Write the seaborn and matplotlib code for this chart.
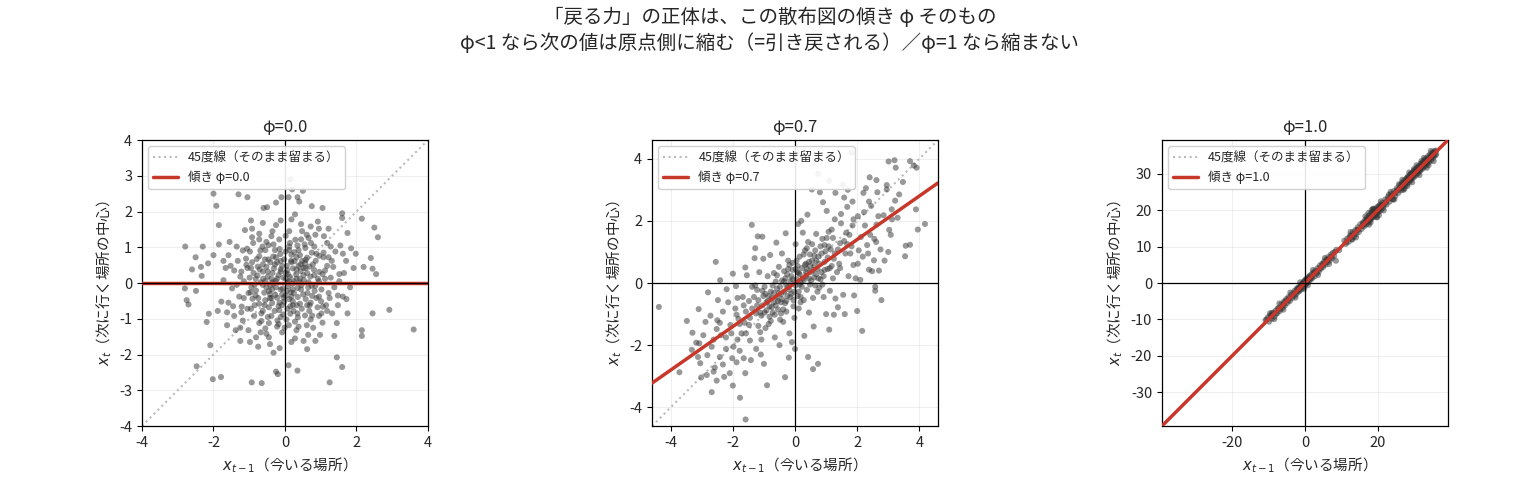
import pandas as pd
import matplotlib.pyplot as plt
import seaborn as sns

# 各パネルの φ とタイトル
phis = [0.0, 0.7, 1.0]
panel_titles = ["φ=0.0", "φ=0.7", "φ=1.0"]
axis_lims = [4.0, 4.6, 39.2]

suptitle_text = ("「戻る力」の正体は、この散布図の傾き φ そのもの\n"
                 "φ<1 なら次の値は原点側に縮む（=引き戻される）／φ=1 なら縮まない")
xlabel_text = "$x_{t-1}$（今いる場所）"
ylabel_text = "$x_t$（次に行く場所の中心）"
diag_label = "45度線（そのまま留まる）"

# φ=0.0 : (x_{t-1}, x_t) 読み取り値
pts_phi00 = [
    # 外れ気味の点
    (-2.79, 1.02), (-2.0, 2.5), (-1.92, 2.16), (-1.3, 2.48), (-1.05, 2.4), (-1.85, 1.62),
    (-2.8, -0.15), (-2.75, -0.48), (-2.7, -0.6), (-2.5, 0.72), (-2.6, 0.38), (-2.3, 1.02),
    (-2.35, 0.45), (-2.15, 0.55), (-2.0, 0.78), (-2.49, -0.22), (-2.33, 0.2), (-2.19, -1.09),
    (-2.13, -0.86), (-2.09, -1.74), (-2.47, -2.33), (-2.02, -2.69), (-1.79, -2.63),
    (-0.93, -2.78), (-0.65, -2.8), (-0.25, -2.48), (-0.2, -2.55), (0.1, -2.3), (0.35, -2.45),
    (1.25, -2.78), (1.45, -2.08), (1.6, -2.35), (2.15, -1.32), (2.15, -1.48), (2.45, -0.85),
    (2.92, -0.75), (3.6, -1.3), (2.5, 1.55), (2.6, 1.28), (2.15, 1.8), (2.4, 0.7), (2.45, 0.4),
    (2.55, 0.25), (1.85, 0.97), (1.98, 0.82), (2.2, 0.45), (0.15, 2.9), (0.2, 2.62), (0.5, 2.58),
    (0.4, 2.28), (0.35, 2.4), (-0.1, 2.4), (0.1, 2.4), (-0.25, 2.25), (-0.5, 2.12), (-0.6, 2.1),
    (1.05, 2.1), (0.75, 2.15), (1.6, 1.95), (1.6, 1.82), (1.75, 1.4),
    # 中心付近
    (0.12, 0.05), (-0.18, 0.22), (0.35, -0.14), (-0.42, -0.31), (0.05, 0.48), (0.27, 0.61),
    (-0.61, 0.12), (0.58, -0.45), (-0.08, -0.62), (0.71, 0.18), (-0.33, 0.74), (0.44, 0.33),
    (-0.72, -0.58), (0.15, -0.86), (-0.25, -0.12), (0.83, -0.22), (-0.52, 0.45), (0.02, -0.35),
    (0.38, 0.92), (-0.88, 0.28), (0.62, 0.71), (-0.15, 0.95), (0.91, -0.68), (-0.66, -0.85),
    (0.22, -0.51), (-0.41, 0.58), (0.53, 0.08), (-0.05, 0.15), (0.09, -0.09), (-0.29, -0.78),
    (0.76, -0.91), (-0.94, -0.12), (0.31, 0.24), (-0.12, 0.38), (0.47, -0.72), (-0.58, -0.27),
    (0.68, 0.46), (-0.35, 0.02), (0.18, 0.79), (-0.79, 0.67), (0.96, 0.31), (-0.22, -0.41),
    (0.04, -1.02), (-0.48, -0.95), (0.57, 0.98), (-0.02, 0.66), (0.25, -0.28), (-0.69, 0.91),
    (0.86, 0.62), (-0.91, -0.44),
    (1.12, 0.35), (-1.08, 0.51), (1.25, -0.42), (-1.21, -0.66), (0.45, 1.22), (-0.38, 1.31),
    (0.61, -1.18), (-0.55, -1.27), (1.41, 0.88), (-1.35, 1.02), (1.05, -1.11), (-1.18, -1.05),
    (0.12, 1.45), (-0.08, -1.38), (1.52, 0.05), (-1.48, -0.15), (0.85, 1.35), (-0.92, 1.28),
    (1.32, -0.85), (-1.42, -0.92), (0.28, -1.55), (-0.25, 1.62), (1.62, -0.38), (-1.66, 0.42),
    (1.18, 1.12), (-1.12, 1.48), (0.98, -1.45), (-0.81, -1.52), (1.71, 0.62), (-1.58, 0.78),
    (0.72, 1.58), (-0.62, 1.68), (0.52, -1.62), (-0.42, -1.71), (1.45, -1.12), (-1.38, -1.32),
    (1.82, -0.12), (-1.78, -0.52), (0.18, 1.78), (-0.15, -1.82), (1.08, 0.72), (-1.02, -0.28),
    (1.28, 0.15), (-1.25, 0.18), (0.35, 1.05), (-0.45, -1.12), (0.95, -0.38), (-0.98, 0.88),
    (1.15, -0.62), (-1.32, 0.62),
    (0.42, 0.12), (-0.12, -0.18), (0.22, 0.41), (-0.35, 0.28), (0.65, -0.12), (-0.55, -0.48),
    (0.08, 0.25), (-0.28, 0.52), (0.51, -0.32), (-0.68, 0.02), (0.33, -0.62), (-0.15, -0.55),
    (0.78, 0.52), (-0.82, -0.35), (0.02, 0.88), (-0.05, -0.88), (0.95, 0.05), (-0.95, 0.42),
    (0.48, 0.62), (-0.45, -0.68), (0.18, -0.38), (-0.22, 0.12), (0.62, 0.28), (-0.62, 0.32),
    (0.28, -1.08), (-0.32, 1.08), (1.02, -0.18), (-1.05, -0.72), (0.72, -0.55), (-0.72, 0.75),
    (0.14, 1.12), (-0.18, -1.15), (1.18, 0.48), (-1.15, 0.05), (0.38, 0.48), (-0.38, -0.42),
    (0.88, -0.42), (-0.85, -0.62), (0.55, 1.08), (-0.52, 1.15), (0.05, -0.22), (0.25, 0.05),
    (-0.48, 0.18), (0.68, -0.78), (-0.08, 0.48), (1.08, 0.85), (-1.22, 0.32), (0.82, 1.02),
    (-0.72, -1.12), (0.35, -0.85),
    (1.55, 1.05), (-1.55, 1.15), (1.38, -1.48), (-1.62, -1.18), (1.65, 0.28), (-1.72, 0.08),
    (0.92, 1.72), (-0.95, 1.75), (0.62, -1.85), (-0.75, -1.78), (1.22, 1.52), (-1.25, -1.62),
    (1.92, 0.42), (-1.88, -0.78), (1.48, -0.62), (-1.52, 0.48), (0.28, 1.92), (-0.32, -1.95),
    (1.75, -0.85), (-1.85, 1.08), (1.05, 0.25), (-0.85, -0.05), (0.15, -0.65), (-0.62, -0.05),
    (0.75, 0.85), (1.35, 0.45), (-1.15, -0.42), (0.45, -0.18), (-0.25, 0.72), (0.58, 0.42),
    (-0.45, -0.22), (0.12, -0.45), (1.02, -0.85), (-0.92, 0.58), (0.32, 0.12), (-0.12, 0.32),
    (0.85, -0.08), (-0.55, 0.92), (0.18, 0.58), (-0.38, -0.92),
    (0.21, -0.18), (-0.31, 0.41), (0.44, 0.52), (-0.57, -0.62), (0.63, -0.28), (-0.13, 0.81),
    (0.07, -0.72), (-0.77, 0.21), (0.81, 0.37), (-0.41, -0.07), (0.29, 1.21), (-0.21, -1.05),
    (1.01, -0.51), (-1.09, 0.68), (0.56, -0.91), (-0.63, 1.02), (0.14, 0.17), (-0.04, -0.41),
    (0.36, -0.39), (-0.46, 0.66), (0.73, 1.12), (-0.86, -0.92), (0.92, 0.12), (-0.99, 0.15),
    (0.48, 1.45), (-0.52, -1.42), (1.22, -0.28), (-1.28, -0.38), (0.02, 1.32), (-0.01, -1.25),
    (0.66, 0.02), (-0.36, -0.18), (0.17, 0.62), (-0.27, -0.33), (0.42, -0.58), (-0.71, 0.38),
    (0.88, 0.82), (-0.81, -0.21), (0.11, -1.18), (-0.16, 1.22), (1.31, 0.62), (-1.42, 0.35),
    (1.09, 1.31), (-1.02, -1.32), (0.61, 1.35), (-0.68, -1.38), (1.48, -0.35), (-1.58, -0.55),
    (0.32, -1.32), (-0.35, 1.45), (0.79, -1.25), (-0.89, 1.12), (1.18, -0.78), (-1.18, 0.91),
    (0.52, 0.22), (-0.55, 0.05), (0.24, -0.78), (-0.22, 0.58), (0.69, -0.62), (-0.75, -0.42),
    (0.08, 0.02), (0.32, 0.38), (-0.18, -0.65), (0.58, 0.65), (-0.48, 0.32), (0.12, 0.92),
    (-0.08, -0.32), (0.95, -0.92), (-0.95, -0.72), (0.42, 0.78), (-0.38, 0.12), (0.22, -0.02),
    (-0.62, -0.78), (0.75, -0.08), (-0.28, 0.92), (0.38, -1.22), (1.12, 0.12), (-1.05, 0.42),
    (0.02, 0.28), (-0.12, -0.95), (1.38, -0.12), (-1.35, -0.05), (0.85, -1.62), (-0.92, 1.52),
    (1.62, 0.82), (-1.62, -0.82), (0.45, 1.65), (-0.45, -1.52), (1.28, 1.02), (-1.25, -1.25),
    (0.18, -1.65), (-0.12, 1.75), (1.72, -0.45), (-1.72, 0.62), (0.65, -1.45), (-0.72, 1.38),
    (1.52, 0.25), (-1.45, -0.65), (0.95, 1.52), (-0.98, -1.65),
    (0.06, 0.36), (-0.26, 0.06), (0.46, -0.06), (-0.06, -0.16), (0.16, -0.26), (-0.36, -0.56),
    (0.56, 0.56), (-0.56, 0.66), (0.26, 0.86), (-0.16, -0.76), (0.76, -0.36), (-0.76, 0.46),
    (0.36, -0.96), (-0.46, 1.06), (0.96, 0.76), (-0.96, -0.26), (0.66, 1.26), (-0.66, -1.06),
    (1.06, -0.66), (-1.06, 0.96), (0.02, 0.12), (-0.32, -0.02), (0.52, 0.42), (-0.12, 0.62),
    (0.22, -0.62), (-0.42, -0.42), (0.82, 0.22), (-0.82, 0.12), (0.12, 1.02), (-0.22, -1.22),
    (0.72, -1.02), (-0.72, 1.22), (1.22, 0.72), (-1.22, -0.82), (0.42, 0.02), (-0.02, -0.52),
    (0.32, 0.72), (-0.52, -0.12), (0.62, -0.62), (-0.62, 0.52),
]

# φ=0.7 : (x_{t-1}, x_t) 読み取り値
pts_phi07 = [
    # 外れ気味の点
    (-4.38, -0.77), (-3.72, -2.87), (-3.48, -1.22), (-3.10, -0.84), (-3.08, -1.94),
    (-3.02, -3.04), (-2.84, -2.96), (-2.68, -3.51), (-2.52, -3.14), (-1.77, -3.69),
    (-1.59, -4.39), (-0.90, -3.29), (-0.32, -3.03), (0.0, -2.12), (0.42, -2.38), (0.58, -2.77),
    (0.74, -2.60), (2.16, -1.54), (2.58, -0.25), (2.78, -0.55), (-2.55, 0.68), (-2.41, 0.09),
    (-1.39, 1.87), (-1.05, 1.49), (0.74, 3.52), (1.10, 3.29), (1.54, 3.16), (1.82, 4.19),
    (0.54, 3.01), (0.80, 2.92), (2.62, 3.31), (3.01, 3.91), (3.20, 3.95), (3.24, 3.71),
    (3.70, 3.92), (3.91, 3.71), (3.47, 3.25), (3.82, 3.78), (4.18, 1.90), (3.95, 1.72),
    (3.89, 2.37), (3.56, 1.20), (3.70, 1.23), (3.54, 0.86), (3.03, 1.71), (3.11, 2.37),
    (2.95, 3.01), (2.38, 0.43), (2.54, 0.73), (2.61, 1.32),
    # 中心付近
    (0.05, 0.12), (-0.12, -0.35), (0.22, 0.48), (-0.31, 0.15), (0.38, -0.22), (-0.45, -0.62),
    (0.15, 0.85), (-0.08, 0.42), (0.52, 0.35), (-0.58, -0.18), (0.65, 1.05), (-0.72, -0.95),
    (0.28, -0.55), (-0.22, 0.72), (0.82, 0.12), (-0.85, -0.42), (0.42, 1.32), (-0.38, -1.25),
    (0.95, 0.68), (-0.95, -1.45), (0.12, -0.82), (-0.15, 0.05), (0.58, -0.48), (-0.52, 0.52),
    (0.72, 0.45), (-0.68, -0.62), (0.35, 0.22), (-0.28, -0.08), (0.88, 1.42), (-0.88, 0.22),
    (0.02, 1.25), (-0.02, -1.12), (0.48, 0.92), (-0.45, -0.98), (0.18, 0.02), (-0.62, 0.05),
    (0.78, -0.15), (-0.78, -1.22), (0.25, 1.62), (-0.18, -1.62), (0.62, 0.18), (-0.35, 0.38),
    (0.92, -0.45), (-0.98, -0.12), (0.08, 0.55), (-0.05, -0.55), (0.45, -0.95), (-0.42, 0.95),
    (0.68, 1.58), (-0.65, -1.75),
    (1.05, 0.82), (-1.05, -0.72), (1.22, 1.45), (-1.18, -1.38), (1.35, 0.35), (-1.32, -0.45),
    (1.48, 1.92), (-1.45, -1.85), (1.62, 0.95), (-1.58, -0.92), (1.75, 1.55), (-1.72, -1.62),
    (1.88, 0.58), (-1.85, -0.48), (2.02, 2.15), (-1.98, -2.05), (1.12, -0.25), (-1.15, 0.35),
    (1.28, 2.05), (-1.25, -2.12), (1.42, 0.62), (-1.38, -0.12), (1.55, -0.38), (-1.55, 0.25),
    (1.68, 2.45), (-1.65, -2.42), (1.82, 1.18), (-1.82, -1.15), (1.95, 0.15), (-1.92, -0.82),
    (2.12, 1.48), (-2.08, -1.35), (1.15, 1.08), (-1.08, -1.05), (1.38, -0.78), (-1.42, -2.48),
    (1.58, 2.75), (-1.62, -1.28), (1.72, 0.22), (-1.78, -2.18), (2.18, 0.85), (-2.15, -0.62),
    (1.02, 2.32), (-1.02, 0.78), (1.25, -1.02), (-1.28, 1.12), (1.45, 1.28), (-1.48, -0.58),
    (1.85, 2.62), (-1.88, -2.55),
    (2.25, 1.85), (-2.22, -1.75), (2.35, 0.95), (-2.32, -0.92), (2.45, 2.48), (-2.42, -2.38),
    (2.55, 1.42), (-2.52, -1.48), (2.65, 2.92), (-2.62, -2.85), (2.75, 1.08), (-2.72, -1.05),
    (2.85, 2.18), (-2.82, -2.32), (2.95, 3.15), (-2.95, -1.68), (3.08, 1.55), (-3.05, -2.58),
    (3.22, 2.65), (-3.18, -1.92), (2.28, 3.05), (-2.28, -3.02), (2.48, 0.38), (-2.48, -0.55),
    (2.68, 2.15), (-2.68, -2.05), (2.88, 0.72), (-2.88, -1.25), (3.12, 2.05), (-3.12, -2.38),
    (3.35, 2.85), (-3.32, -2.15), (2.38, 2.62), (-2.38, -1.68), (2.58, -0.12), (-2.58, -2.72),
    (0.02, -0.08), (0.15, 0.28), (-0.18, -0.22), (0.28, 0.08), (-0.25, -0.42), (0.35, 0.62),
    (-0.35, -0.28), (0.45, 0.15), (-0.48, -0.12), (0.55, 0.72), (-0.55, -0.85), (0.12, -0.28),
    (-0.12, 0.22), (0.22, -0.12), (-0.08, 0.65), (0.62, 0.55), (-0.68, -0.32), (0.75, 0.85),
    (-0.75, -0.48), (0.38, 0.45), (-0.32, -0.65), (0.08, 0.35), (-0.42, 0.08), (0.48, -0.05),
    (0.85, 0.95), (-0.82, -0.75), (0.18, -0.45), (-0.22, 0.45), (0.68, 0.28), (-0.58, -0.45),
    (0.32, 1.05), (-0.28, -0.92), (0.95, 0.42), (-0.92, -0.62), (0.05, 0.72), (-0.05, -0.75),
    (1.08, 1.18), (-1.12, -0.95), (1.18, 0.55), (-1.22, -0.22),
    (0.12, 0.32), (-0.22, -0.12), (0.32, 0.58), (-0.42, -0.52), (0.52, 0.08), (-0.52, -0.32),
    (0.62, 0.88), (-0.62, -0.72), (0.72, -0.28), (-0.72, -0.08), (0.82, 1.18), (-0.82, -1.08),
    (0.92, 0.22), (-0.92, -0.88), (1.02, 1.45), (-1.02, -0.42), (1.12, 0.48), (-1.12, -1.58),
    (1.22, 0.15), (-1.22, -0.72), (0.02, 0.45), (-0.02, -0.28), (0.18, -0.62), (-0.18, 0.58),
    (0.38, 1.12), (-0.38, -0.85), (0.58, 0.42), (-0.58, 0.25), (0.78, 0.62), (-0.78, -0.28),
    (0.98, 1.02), (-0.98, -0.95), (1.18, 1.72), (-1.18, -0.55), (1.38, 1.08), (-1.38, -0.82),
    (1.58, 1.35), (-1.58, -1.62), (1.78, 0.95), (-1.78, -1.32), (0.25, 0.15), (-0.25, 0.28),
    (0.45, 0.68), (-0.45, -0.35), (0.65, -0.08), (-0.65, -1.02), (0.85, 0.35), (-0.85, -1.32),
    (1.05, 0.45), (-1.05, -0.25), (1.25, 0.78), (-1.25, -0.98), (1.45, 0.48), (-1.45, -1.12),
    (1.65, 1.62), (-1.65, -0.72), (1.85, 1.85), (-1.85, -1.82), (2.05, 1.05), (-2.05, -1.62),
    (0.08, -0.42), (-0.08, 0.12), (0.28, 0.92), (-0.28, -0.58), (0.48, 0.55), (-0.48, -1.18),
    (0.68, 0.72), (-0.68, 0.32), (0.88, -0.05), (-0.88, -0.58), (1.08, 1.65), (-1.08, -1.82),
    (1.28, 0.95), (-1.28, -0.08), (1.48, 2.22), (-1.48, -1.35), (1.68, 1.25), (-1.68, -0.45),
    (1.88, 2.05), (-1.88, -1.02), (2.22, 2.28), (-2.22, -2.12), (2.42, 1.55), (-2.42, -1.28),
    (2.62, 1.88), (-2.62, -1.82), (2.02, 0.62), (-2.02, -2.42), (2.32, 1.22), (-2.32, -2.62),
    (0.15, -0.05), (-0.15, -0.45), (0.35, 0.35), (-0.35, 0.05), (0.55, 1.25), (-0.55, -0.58),
    (0.75, 0.15), (-0.75, -0.78), (0.95, 1.22), (-0.95, -0.35),
    (-1.6, 0.5), (-1.9, -0.1), (-2.2, -0.2), (-2.0, 0.3), (-1.3, 0.8), (-0.8, 0.9),
    (-0.6, 1.3), (-1.1, -2.3), (-0.5, -2.0), (-0.2, -2.4), (0.3, -1.7), (0.6, -1.4),
    (1.0, -1.0), (1.3, -0.5), (1.6, -1.0), (1.9, -0.4), (2.1, 0.1), (0.9, 2.6), (0.4, 2.2),
    (0.1, 1.9), (-0.3, 1.6), (1.3, 2.9), (1.7, 3.0), (2.2, 2.9), (-1.0, -2.6), (-1.6, -2.9),
    (-2.1, -2.9), (-2.5, -1.2), (-2.8, -0.3), (-3.3, -1.6), (2.7, 0.4), (3.0, 1.0),
    (3.3, 2.1), (2.0, -0.9), (-0.1, -1.9), (0.2, 2.0), (1.1, -1.5), (-1.2, 1.5),
    (-2.0, -3.3), (2.4, 3.4),
]

# φ=1.0 : (x_{t-1}, x_t) 読み取り値
pts_phi10 = [
    (-10.8, -10.2), (-10.2, -9.4), (-9.8, -10.6), (-9.5, -8.9), (-9.1, -9.8), (-8.7, -8.1),
    (-8.3, -9.2), (-8.0, -7.6), (-7.6, -8.3), (-7.2, -6.8), (-6.9, -7.7), (-6.5, -5.9),
    (-6.2, -6.8), (-5.8, -5.1), (-5.5, -6.2), (-5.1, -4.4), (-4.8, -5.5), (-4.5, -3.8),
    (-4.1, -4.9), (-3.8, -3.2), (-3.5, -4.1), (-3.2, -2.8), (-6.0, -6.1), (-7.9, -8.4),
    (-9.3, -9.0), (-4.6, -4.8), (-5.3, -4.9), (-8.9, -8.6),
    (-2.8, -2.1), (-2.5, -3.2), (-2.2, -1.5), (-2.0, -2.6), (-1.7, -1.2), (-1.5, -2.2),
    (-1.2, -0.6), (-1.0, -1.8), (-0.8, -0.2), (-0.5, -1.2), (-0.3, 0.4), (-0.1, -0.8),
    (0.1, 0.9), (0.3, -0.3), (0.5, 1.2), (0.7, 0.1), (0.9, 1.6), (1.1, 0.5), (1.3, 2.0),
    (1.5, 0.9), (1.8, 2.4), (2.0, 1.3), (2.3, 2.9), (2.6, 1.8), (2.9, 3.4), (-1.9, -1.4),
    (-0.6, -0.4), (0.4, 0.2), (1.6, 1.4), (-0.2, -1.6), (0.0, 0.6), (1.0, 1.0), (-1.4, -1.6),
    (3.2, 2.6), (3.5, 4.1), (3.8, 3.1), (4.1, 4.8), (4.4, 3.9), (4.7, 5.3), (5.0, 4.4),
    (5.3, 6.0), (5.6, 5.0), (5.9, 6.5), (6.2, 5.7), (6.5, 7.2), (6.8, 6.1), (7.1, 7.8),
    (7.4, 6.8), (7.7, 8.3), (8.0, 7.4), (8.5, 6.1), (8.6, 9.1), (4.9, 5.0), (6.0, 6.2),
    (9.4, 9.0),
    (10.8, 11.6), (11.2, 10.7), (11.6, 12.2), (12.0, 11.3), (12.4, 13.1), (12.8, 12.0),
    (13.1, 13.9), (13.4, 12.6), (13.8, 14.5), (14.1, 13.4), (14.5, 15.3), (14.8, 14.0),
    (15.2, 16.1), (15.5, 14.8), (15.9, 16.6), (12.6, 12.9), (14.3, 14.6), (13.0, 11.9),
    (16.2, 15.5), (16.5, 17.3), (16.8, 16.0), (17.0, 17.9), (17.2, 16.5), (17.5, 18.4),
    (17.7, 17.0), (17.9, 18.9), (18.1, 17.4), (18.3, 19.3), (18.5, 17.9), (18.7, 19.6),
    (18.9, 18.2), (19.1, 20.1), (19.3, 18.6), (19.5, 20.4), (19.7, 19.0), (19.9, 20.9),
    (20.1, 19.4), (20.3, 21.2), (20.5, 19.7), (20.7, 21.5), (20.9, 20.1), (21.2, 22.0),
    (21.5, 20.6), (17.4, 19.2), (18.0, 16.6), (18.8, 20.4), (19.6, 18.1), (20.0, 20.0),
    (17.8, 17.8), (19.0, 19.1), (18.4, 18.5), (16.9, 17.1), (20.6, 20.8),
    (22.0, 22.9), (22.4, 21.5), (22.8, 23.6), (23.2, 22.3), (23.6, 24.4), (24.0, 23.0),
    (24.4, 25.2), (24.8, 23.8), (25.2, 26.0), (25.6, 24.7), (23.0, 24.2), (24.2, 22.9),
    (25.0, 25.1),
    (26.0, 26.8), (26.3, 25.4), (26.6, 27.5), (26.9, 26.0), (27.2, 28.1), (27.5, 26.6),
    (27.8, 28.6), (28.0, 27.1), (28.3, 29.2), (28.5, 27.6), (28.8, 29.7), (29.0, 28.1),
    (29.3, 30.2), (29.5, 28.7), (29.8, 30.6), (30.0, 29.1), (30.3, 31.1), (30.5, 29.6),
    (30.8, 31.6), (31.0, 30.1), (31.3, 32.1), (31.5, 30.6), (31.8, 32.7), (32.0, 31.1),
    (32.3, 33.2), (32.5, 31.6), (32.8, 33.7), (33.0, 32.1), (33.3, 34.2), (33.5, 32.6),
    (33.8, 34.8), (34.0, 33.1), (34.3, 35.3), (34.6, 33.6), (34.9, 35.8), (35.2, 34.3),
    (35.5, 36.2), (35.8, 35.0), (27.0, 27.2), (28.2, 28.4), (29.2, 29.0), (30.2, 30.4),
    (31.2, 31.0), (32.2, 32.4), (33.2, 33.0), (34.2, 34.5), (30.7, 30.8), (31.7, 31.4),
    (29.7, 29.9), (32.7, 32.9), (33.7, 33.5), (28.7, 28.3), (26.5, 26.4), (35.0, 35.3),
    (27.7, 27.9), (34.7, 34.9), (36.0, 35.4),
    (-10.5, -10.0), (-9.0, -8.2), (-7.5, -7.0), (-6.8, -7.2), (-5.7, -5.6), (-4.3, -4.2),
    (-3.0, -3.5), (-2.4, -2.3), (-1.8, -2.0), (-1.1, -0.9), (-0.4, 0.1), (0.2, -0.2),
    (0.6, 0.8), (1.2, 1.5), (1.9, 1.8), (2.5, 2.8), (3.4, 3.2), (4.2, 4.1), (5.2, 5.4),
    (6.4, 6.5), (7.3, 7.2), (8.2, 8.5), (11.4, 11.2), (12.2, 12.4), (13.6, 13.5),
    (14.6, 14.6), (15.7, 15.6), (16.0, 16.4), (16.4, 16.2), (16.7, 16.9), (17.1, 17.3),
    (17.3, 17.6), (17.6, 17.5), (18.2, 18.0), (18.6, 18.8), (19.2, 19.5), (19.4, 19.2),
    (19.8, 19.6), (20.2, 20.4), (20.4, 20.3), (20.8, 20.9), (21.0, 21.3), (21.4, 21.2),
    (21.8, 21.6), (22.2, 22.1), (22.6, 22.8), (23.4, 23.3), (23.8, 23.9), (24.6, 24.5),
    (25.4, 25.6), (25.8, 25.7), (26.2, 26.1), (26.4, 26.9), (26.8, 26.5), (27.1, 27.6),
    (27.4, 27.1), (27.6, 27.6), (27.9, 28.1), (28.1, 27.8), (28.4, 28.8), (28.6, 28.5),
    (28.9, 29.1), (29.1, 28.8), (29.4, 29.7), (29.6, 29.3), (29.9, 30.1), (30.1, 29.8),
    (30.4, 30.6), (30.6, 30.3), (30.9, 31.1), (31.1, 30.7), (31.4, 31.6), (31.6, 31.3),
    (31.9, 32.1), (32.1, 31.8), (32.4, 32.6), (32.6, 32.2), (32.9, 33.2), (33.1, 32.7),
    (33.4, 33.6), (33.6, 33.3), (33.9, 34.1), (34.1, 33.8), (34.4, 34.6), (34.8, 34.4),
    (35.1, 35.6), (35.4, 34.9), (35.7, 35.9), (35.9, 36.3), (30.0, 30.9), (31.0, 31.9),
    (32.0, 32.8), (33.0, 33.9), (29.0, 29.9), (28.0, 28.9), (31.5, 31.5), (30.5, 30.4),
    (-9.6, -8.3), (-8.4, -9.9), (-7.0, -5.6), (-5.9, -7.3), (-4.0, -2.6), (-2.6, -4.0),
    (-1.3, 0.2), (0.8, -0.6), (2.2, 3.6), (3.6, 2.2), (5.5, 6.9), (6.6, 5.2), (12.5, 14.0),
    (14.0, 12.5), (16.6, 18.3), (17.6, 16.0), (18.6, 20.3), (19.8, 18.0), (20.8, 22.4),
    (21.6, 19.9), (23.5, 25.0), (24.5, 22.9), (26.7, 28.3), (27.3, 25.8), (28.6, 30.3),
    (29.4, 27.6), (30.6, 32.3), (31.4, 29.6), (32.6, 34.3), (33.4, 31.6), (34.5, 36.2),
    (35.3, 33.4), (29.9, 31.3), (31.9, 33.4), (28.1, 26.6), (33.9, 32.3), (20.3, 18.6),
    (18.3, 20.0), (25.8, 27.1), (27.0, 25.5),
]

all_points = [pts_phi00, pts_phi07, pts_phi10]

sns.set_style("white")
plt.rcParams['font.family'] = ['Noto Sans CJK JP', 'DejaVu Sans']
plt.rcParams['axes.unicode_minus'] = False

fig, axes = plt.subplots(1, 3, figsize=(15.4, 4.84), dpi=100)
lefts = [0.0922, 0.4234, 0.7545]

for ax, left, phi, title, lim, pts in zip(axes, lefts, phis, panel_titles, axis_lims, all_points):
    ax.set_position([left, 0.1198, 0.1857, 0.5909])
    df = pd.DataFrame(pts, columns=["x_prev", "x_next"])
    sns.scatterplot(data=df, x="x_prev", y="x_next", ax=ax, color="#333333",
                    alpha=0.5, s=19, edgecolor="none", zorder=2)
    ax.axline((0, 0), slope=1.0, color="#bbbbbb", linestyle=":", linewidth=1.5,
              label=diag_label, zorder=1)
    ax.axline((0, 0), slope=phi, color="#c8382a", linewidth=2.5,
              label=f"傾き φ={phi:.1f}", zorder=3)
    ax.axhline(0, color="black", linewidth=0.9, zorder=4)
    ax.axvline(0, color="black", linewidth=0.9, zorder=4)
    ax.set_xlim(-lim, lim)
    ax.set_ylim(-lim, lim)
    ax.set_aspect("equal")
    ax.grid(True, alpha=0.3)
    for sp in ax.spines.values():
        sp.set_color("black")
        sp.set_linewidth(0.9)
    ax.tick_params(axis="both", labelsize=10.5, length=3.5, direction="out",
                   bottom=True, left=True, color="black")
    ax.set_title(title, fontsize=12)
    ax.set_xlabel(xlabel_text, fontsize=10.5)
    ax.set_ylabel(ylabel_text, fontsize=10.5)
    ax.legend(loc="upper left", fontsize=9, framealpha=0.9)

fig.suptitle(suptitle_text, fontsize=14, y=0.985, va="top", linespacing=1.3)
fig.savefig("out.png", dpi=100)
